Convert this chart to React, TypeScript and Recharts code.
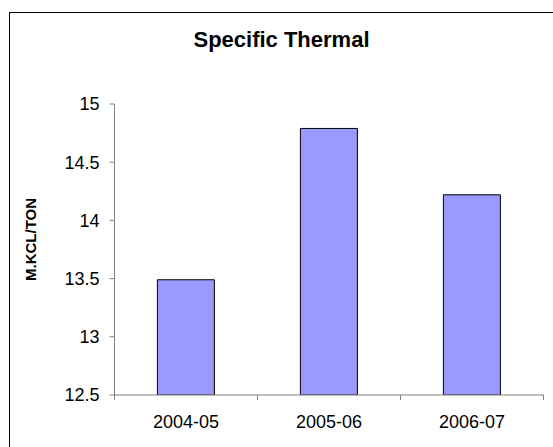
import React from "react";
import { BarChart, Bar, XAxis, YAxis } from "recharts";

const years = ["2004-05", "2005-06", "2006-07"];
const thermal = [13.49, 14.79, 14.22];
const yTicks = [12.5, 13, 13.5, 14, 14.5, 15];

const data = years.map((year, i) => ({ year, value: thermal[i] }));

const FONT = "'Liberation Sans', Arial, sans-serif";
const AXIS = "#808080";

function YearTick({ x, y, payload, index }: any) {
  const half = payload?.offset ?? 0;
  return (
    <g>
      <line x1={x - half} y1={y} x2={x - half} y2={y + 5} stroke={AXIS} />
      {index === years.length - 1 && (
        <line x1={x + half} y1={y} x2={x + half} y2={y + 5} stroke={AXIS} />
      )}
      <text x={x} y={y + 33} textAnchor="middle" fontSize={18} fill="#000" fontFamily={FONT}>
        {payload.value}
      </text>
    </g>
  );
}

function UnitLabel({ viewBox }: any) {
  const cx = viewBox.x + 35.5;
  const cy = viewBox.y + viewBox.height / 2 - 10;
  return (
    <text
      x={cx}
      y={cy}
      transform={`rotate(-90, ${cx}, ${cy})`}
      textAnchor="middle"
      fontSize={15}
      fontWeight="bold"
      fontFamily={FONT}
      fill="#000"
    >
      M.KCL/TON
    </text>
  );
}

export default function App() {
  return (
    <div
      style={{
        position: "absolute",
        left: 0,
        top: 0,
        width: 553,
        height: 447,
        overflow: "hidden",
        background: "#fff",
        fontFamily: FONT,
      }}
    >
      <div
        style={{
          position: "absolute",
          left: 9,
          top: 12,
          width: 600,
          height: 600,
          border: "1px solid #000",
        }}
      />
      <div
        style={{
          position: "absolute",
          left: 9,
          top: 29,
          width: 545,
          textAlign: "center",
          fontSize: 22,
          lineHeight: "22px",
          fontWeight: "bold",
        }}
      >
        Specific Thermal
      </div>
      <div style={{ position: "absolute", left: 0, top: 0 }}>
        <BarChart
          width={553}
          height={447}
          data={data}
          margin={{ top: 104, right: 9.5, bottom: 0, left: 0 }}
          barCategoryGap="30%"
          style={{ fontFamily: FONT }}
        >
          <XAxis
            dataKey="year"
            height={52}
            interval={0}
            axisLine={{ stroke: AXIS }}
            tickLine={false}
            tickSize={0}
            tickMargin={0}
            tick={<YearTick />}
          />
          <YAxis
            width={114.5}
            domain={[12.5, 15]}
            ticks={yTicks}
            allowDataOverflow
            axisLine={{ stroke: AXIS }}
            tickLine={{ stroke: AXIS }}
            tickSize={5}
            tickMargin={10}
            tick={{ fontSize: 18, fill: "#000", fontFamily: FONT }}
            label={<UnitLabel />}
          />
          <Bar
            dataKey="value"
            fill="#9999FF"
            stroke="#000"
            strokeWidth={1}
            isAnimationActive={false}
          />
        </BarChart>
      </div>
    </div>
  );
}
